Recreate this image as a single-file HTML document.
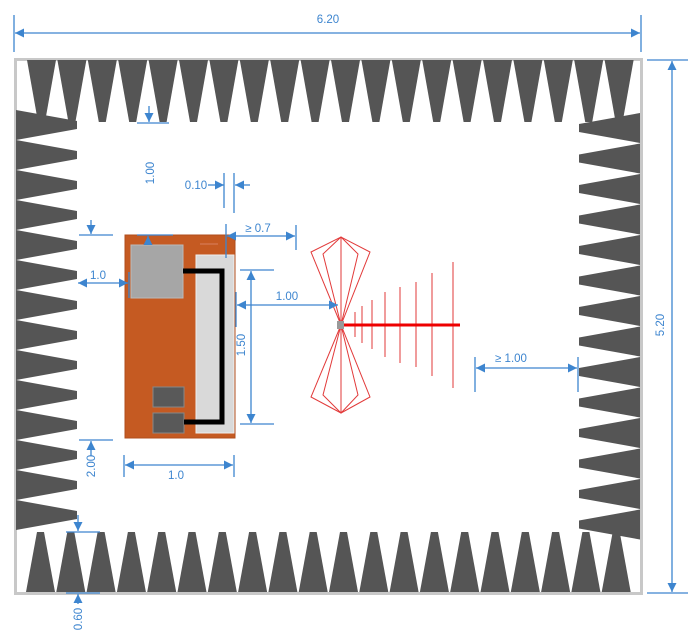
<!DOCTYPE html>
<html><head><meta charset="utf-8"><style>
html,body{margin:0;padding:0;background:#fff}
svg{display:block}
text{font-family:"Liberation Sans",sans-serif;font-size:11.5px;fill:#3d85cf}
</style></head><body>
<svg width="700" height="642" viewBox="0 0 700 642" xmlns="http://www.w3.org/2000/svg">
<defs>
<marker id="a" viewBox="0 0 10 10" refX="10" refY="5" markerWidth="9" markerHeight="9" markerUnits="userSpaceOnUse" orient="auto-start-reverse"><path d="M0,0 L10,5 L0,10 z" fill="#3d85cf"/></marker>
<polygon id="ct" points="0,0 29,0 18,62 11,62" fill="#555"/>
<polygon id="cl" points="0,0 61,11 61,19 0,30" fill="#555"/>
<polygon id="cr" points="61,0 0,11 0,19 61,30" fill="#555"/>
<polygon id="cb" points="11,0 18,0 29,60 0,60" fill="#555"/>
</defs>
<rect x="15.5" y="59.5" width="626" height="534" fill="#fff" stroke="#c8c8c8" stroke-width="3"/>
<g>
<use href="#ct" x="27" y="60"/><use href="#ct" x="57.4" y="60"/><use href="#ct" x="87.8" y="60"/><use href="#ct" x="118.2" y="60"/><use href="#ct" x="148.6" y="60"/><use href="#ct" x="179" y="60"/><use href="#ct" x="209.4" y="60"/><use href="#ct" x="239.8" y="60"/><use href="#ct" x="270.2" y="60"/><use href="#ct" x="300.6" y="60"/><use href="#ct" x="331" y="60"/><use href="#ct" x="361.4" y="60"/><use href="#ct" x="391.8" y="60"/><use href="#ct" x="422.2" y="60"/><use href="#ct" x="452.6" y="60"/><use href="#ct" x="483" y="60"/><use href="#ct" x="513.4" y="60"/><use href="#ct" x="543.8" y="60"/><use href="#ct" x="574.2" y="60"/><use href="#ct" x="604.6" y="60"/>
</g>
<g>
<use href="#cl" x="16" y="110"/><use href="#cl" x="16" y="140"/><use href="#cl" x="16" y="170"/><use href="#cl" x="16" y="200"/><use href="#cl" x="16" y="230"/><use href="#cl" x="16" y="260"/><use href="#cl" x="16" y="290"/><use href="#cl" x="16" y="320"/><use href="#cl" x="16" y="350"/><use href="#cl" x="16" y="380"/><use href="#cl" x="16" y="410"/><use href="#cl" x="16" y="440"/><use href="#cl" x="16" y="470"/><use href="#cl" x="16" y="500"/>
</g>
<g>
<use href="#cr" x="579" y="113"/><use href="#cr" x="579" y="143.5"/><use href="#cr" x="579" y="174"/><use href="#cr" x="579" y="204.5"/><use href="#cr" x="579" y="235"/><use href="#cr" x="579" y="265.5"/><use href="#cr" x="579" y="296"/><use href="#cr" x="579" y="326.5"/><use href="#cr" x="579" y="357"/><use href="#cr" x="579" y="387.5"/><use href="#cr" x="579" y="418"/><use href="#cr" x="579" y="448.5"/><use href="#cr" x="579" y="479"/><use href="#cr" x="579" y="509.5"/>
</g>
<g>
<use href="#cb" x="26" y="532"/><use href="#cb" x="56.3" y="532"/><use href="#cb" x="86.6" y="532"/><use href="#cb" x="116.9" y="532"/><use href="#cb" x="147.2" y="532"/><use href="#cb" x="177.5" y="532"/><use href="#cb" x="207.8" y="532"/><use href="#cb" x="238.1" y="532"/><use href="#cb" x="268.4" y="532"/><use href="#cb" x="298.7" y="532"/><use href="#cb" x="329" y="532"/><use href="#cb" x="359.3" y="532"/><use href="#cb" x="389.6" y="532"/><use href="#cb" x="419.9" y="532"/><use href="#cb" x="450.2" y="532"/><use href="#cb" x="480.5" y="532"/><use href="#cb" x="510.8" y="532"/><use href="#cb" x="541.1" y="532"/><use href="#cb" x="571.4" y="532"/><use href="#cb" x="601.7" y="532"/>
</g>

<rect x="125" y="235" width="110" height="203" fill="#c55a22" stroke="#b04e1c"/>
<rect x="131" y="245" width="52" height="53" fill="#a6a6a6" stroke="#bbb"/>
<rect x="196" y="255" width="38" height="178" fill="#d9d9d9" stroke="#eee"/>
<line x1="200" y1="244" x2="218" y2="244" stroke="#d98060" stroke-width="1"/>
<rect x="153" y="387" width="31" height="20" fill="#595959" stroke="#888"/>
<rect x="153" y="413" width="31" height="20" fill="#595959" stroke="#888"/>
<path d="M183,271 H222 V422 H184" fill="none" stroke="#000" stroke-width="5"/>

<g stroke="#e23a3a" stroke-width="1" fill="none">
<path d="M341,325 L311,252 L341,237 L370,252 Z"/>
<path d="M341,325 L323,254 L341,237 L358,254 Z"/>
<line x1="341" y1="237" x2="341" y2="413"/>
<path d="M341,325 L311,397 L341,413 L370,397 Z"/>
<path d="M341,325 L323,395 L341,413 L358,395 Z"/>
<line x1="355" y1="312" x2="355" y2="337"/>
<line x1="362" y1="306" x2="362" y2="343"/>
<line x1="372" y1="300" x2="372" y2="349"/>
<line x1="385" y1="292" x2="385" y2="357"/>
<line x1="400" y1="287" x2="400" y2="363"/>
<line x1="416" y1="282" x2="416" y2="367"/>
<line x1="432" y1="273" x2="432" y2="376"/>
<line x1="453" y1="262" x2="453" y2="388"/>
</g>
<line x1="338" y1="325" x2="460" y2="325" stroke="#e00" stroke-width="3"/>
<rect x="337" y="321" width="7" height="8" fill="#999"/>

<g stroke="#3d85cf" stroke-width="1.3" fill="none">
<line x1="14" y1="15" x2="14" y2="52"/><line x1="641" y1="15" x2="641" y2="52"/>
<line x1="15" y1="33" x2="640" y2="33" marker-start="url(#a)" marker-end="url(#a)"/>
<line x1="647" y1="60" x2="688" y2="60"/><line x1="647" y1="593" x2="688" y2="593"/>
<line x1="672" y1="61" x2="672" y2="592" marker-start="url(#a)" marker-end="url(#a)"/>
<line x1="149" y1="106" x2="149" y2="122" marker-end="url(#a)"/><line x1="137" y1="123" x2="169" y2="123"/>
<line x1="208" y1="185" x2="224" y2="185" marker-end="url(#a)"/><line x1="224" y1="173" x2="224" y2="208"/>
<line x1="234" y1="173" x2="234" y2="213"/><line x1="250" y1="185" x2="235" y2="185" marker-end="url(#a)"/>
<line x1="226" y1="224" x2="226" y2="258"/><line x1="227" y1="236" x2="295" y2="236" marker-start="url(#a)" marker-end="url(#a)"/><line x1="296" y1="225" x2="296" y2="250"/>
<line x1="91" y1="220" x2="91" y2="234" marker-end="url(#a)"/><line x1="79" y1="235" x2="113" y2="235"/>
<line x1="148" y1="244" x2="148" y2="236" marker-end="url(#a)"/><line x1="137" y1="235" x2="173" y2="235"/>
<line x1="78" y1="283" x2="128" y2="283" marker-start="url(#a)" marker-end="url(#a)"/><line x1="129" y1="272" x2="129" y2="298"/>
<line x1="236" y1="292" x2="236" y2="327"/><line x1="237" y1="305" x2="338" y2="305" marker-start="url(#a)" marker-end="url(#a)"/>
<line x1="240" y1="270" x2="274" y2="270"/><line x1="240" y1="424" x2="274" y2="424"/>
<line x1="251" y1="271" x2="251" y2="423" marker-start="url(#a)" marker-end="url(#a)"/>
<line x1="79" y1="440" x2="113" y2="440"/><line x1="91" y1="456" x2="91" y2="441" marker-end="url(#a)"/>
<line x1="124" y1="455" x2="124" y2="477"/><line x1="234" y1="455" x2="234" y2="477"/>
<line x1="125" y1="465" x2="233" y2="465" marker-start="url(#a)" marker-end="url(#a)"/>
<line x1="475" y1="357" x2="475" y2="392"/><line x1="578" y1="357" x2="578" y2="392"/>
<line x1="476" y1="368" x2="577" y2="368" marker-start="url(#a)" marker-end="url(#a)"/>
<line x1="78" y1="515" x2="78" y2="531" marker-end="url(#a)"/><line x1="66" y1="532" x2="100" y2="532"/>
<line x1="66" y1="593" x2="100" y2="593"/><line x1="78" y1="604" x2="78" y2="594" marker-end="url(#a)"/>
</g>
<text x="328" y="23" text-anchor="middle" font-size="12">6.20</text>
<text x="0" y="0" text-anchor="middle" font-size="12" transform="translate(664,325) rotate(-90)">5.20</text>
<text x="0" y="0" text-anchor="middle" transform="translate(154,173) rotate(-90)">1.00</text>
<text x="196" y="189" text-anchor="middle">0.10</text>
<text x="258" y="232" text-anchor="middle">≥ 0.7</text>
<text x="98" y="279" text-anchor="middle">1.0</text>
<text x="287" y="300" text-anchor="middle">1.00</text>
<text x="0" y="0" text-anchor="middle" transform="translate(245,345) rotate(-90)">1.50</text>
<text x="0" y="0" text-anchor="middle" transform="translate(95,466) rotate(-90)">2.00</text>
<text x="176" y="479" text-anchor="middle">1.0</text>
<text x="511" y="362" text-anchor="middle">≥ 1.00</text>
<text x="0" y="0" text-anchor="middle" transform="translate(82,619) rotate(-90)">0.60</text>
</svg>
</body></html>
